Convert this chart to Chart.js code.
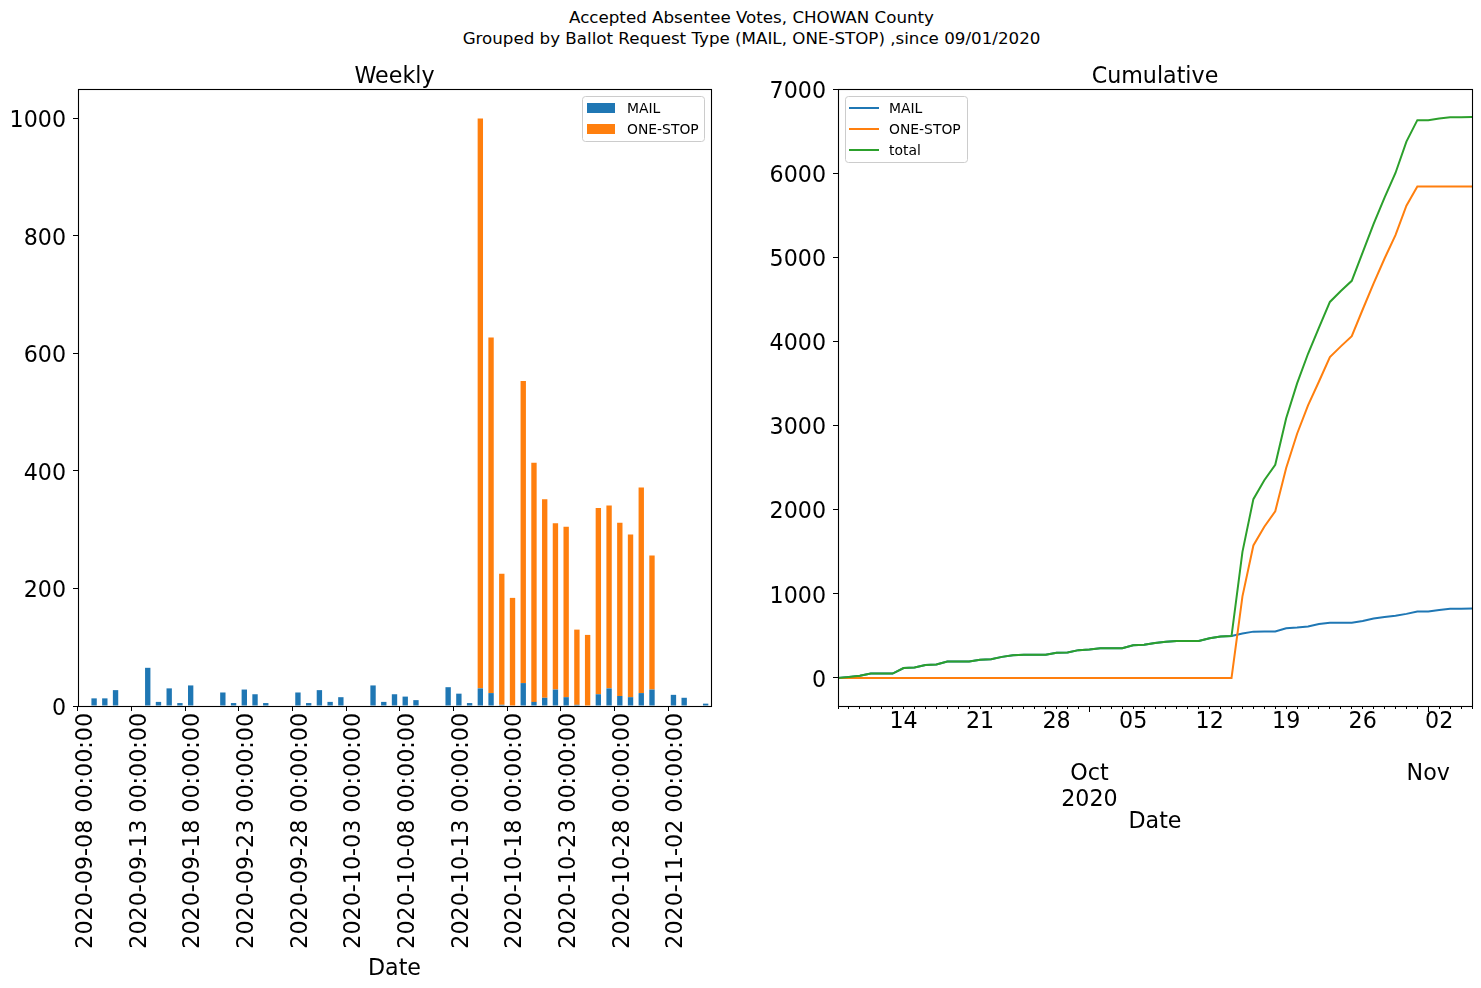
<!DOCTYPE html>
<html><head><meta charset="utf-8">
<script src="https://cdn.jsdelivr.net/npm/chart.js@4.4.0/dist/chart.umd.min.js"></script>
<style>
html,body{margin:0;padding:0;background:#fff;}
body{width:1481px;height:988px;position:relative;overflow:hidden;font-family:'DejaVu Sans',sans-serif;}
#sup{position:absolute;left:11px;top:7px;width:1481px;text-align:center;font-size:16.7px;line-height:21px;color:#000;}
.box{position:absolute;top:0;height:988px;}
#w1{left:0;width:760px;}
#w2{left:760px;width:721px;}
</style></head><body>
<div id="sup">Accepted Absentee Votes, CHOWAN County<br>Grouped by Ballot Request Type (MAIL, ONE-STOP) ,since 09/01/2020</div>
<div class="box" id="w1"><canvas id="c1"></canvas></div>
<div class="box" id="w2"><canvas id="c2"></canvas></div>
<script>
// ---------------- data ----------------
const dates = [
 '2020-09-08','2020-09-09','2020-09-10','2020-09-11','2020-09-12','2020-09-13','2020-09-14','2020-09-15','2020-09-16','2020-09-17',
 '2020-09-18','2020-09-19','2020-09-20','2020-09-21','2020-09-22','2020-09-23','2020-09-24','2020-09-25','2020-09-26','2020-09-27',
 '2020-09-28','2020-09-29','2020-09-30','2020-10-01','2020-10-02','2020-10-03','2020-10-04','2020-10-05','2020-10-06','2020-10-07',
 '2020-10-08','2020-10-09','2020-10-10','2020-10-11','2020-10-12','2020-10-13','2020-10-14','2020-10-15','2020-10-16','2020-10-17',
 '2020-10-18','2020-10-19','2020-10-20','2020-10-21','2020-10-22','2020-10-23','2020-10-24','2020-10-25','2020-10-26','2020-10-27',
 '2020-10-28','2020-10-29','2020-10-30','2020-10-31','2020-11-01','2020-11-02','2020-11-03','2020-11-04','2020-11-05'];

const mailDaily = [0,13,13,27,0,0,65,7,30,5, 35,0,0,23,5,28,20,5,0,0, 23,5,27,7,15,0,0,35,7,20,
 16,10,0,0,32,21,5,30,22,2, 0,39,7,14,28,15,2,0,20,30, 17,15,22,28,0,19,14,0,4];
const oneStopDaily = [0,0,0,0,0,0,0,0,0,0, 0,0,0,0,0,0,0,0,0,0, 0,0,0,0,0,0,0,0,0,0,
 0,0,0,0,0,0,0,970,605,223, 184,514,407,338,283,290,128,121,317,311, 295,277,350,228,0,0,0,0,0];

const mailCum = [0,13,26,53,53,53,118,125,155,160, 195,195,195,218,223,251,271,276,276,276,
 299,304,331,338,353,353,353,388,395,415, 431,441,441,441,473,494,499,529,551,553,
 553,592,599,613,641,656,658,658,678,708, 725,740,762,790,790,809,823,823,827];
const oneStopCum = [0,0,0,0,0,0,0,0,0,0, 0,0,0,0,0,0,0,0,0,0, 0,0,0,0,0,0,0,0,0,0,
 0,0,0,0,0,0,0,970,1575,1798, 1982,2496,2903,3241,3524,3814,3942,4063,4380,4691,
 4986,5263,5613,5841,5841,5841,5841,5841,5841];
const totalCum = [0,13,26,53,53,53,118,125,155,160, 195,195,195,218,223,251,271,276,276,276,
 299,304,331,338,353,353,353,388,395,415, 431,441,441,441,473,494,499,1499,2126,2351,
 2535,3088,3502,3854,4165,4470,4600,4721,5058,5399, 5711,6003,6375,6631,6631,6650,6664,6664,6668];

const weeklyTickDates = ['2020-09-08','2020-09-13','2020-09-18','2020-09-23','2020-09-28','2020-10-03',
 '2020-10-08','2020-10-13','2020-10-18','2020-10-23','2020-10-28','2020-11-02'];
const weeklyYTicks = [0,200,400,600,800,1000];
const cumYTicks = [0,1000,2000,3000,4000,5000,6000,7000];
const cumWeekTickDates = ['2020-09-14','2020-09-21','2020-09-28','2020-10-05','2020-10-12','2020-10-19','2020-10-26','2020-11-02'];
const cumMonthTickDates = ['2020-10-01','2020-11-01'];
const cumMonthTickLabels = [['Oct','2020'],['Nov']];

// ---------------- setup ----------------
const FONT = "'DejaVu Sans', 'Liberation Sans', sans-serif";
const FS = 22.2;
Chart.defaults.font.family = FONT;
Chart.defaults.color = '#000';

const C_MAIL = '#1f77b4', C_ONE = '#ff7f0e', C_TOT = '#2ca02c';

function roundRect(ctx, x, y, w, h, r){
  ctx.beginPath();
  ctx.moveTo(x+r, y); ctx.lineTo(x+w-r, y); ctx.quadraticCurveTo(x+w, y, x+w, y+r);
  ctx.lineTo(x+w, y+h-r); ctx.quadraticCurveTo(x+w, y+h, x+w-r, y+h);
  ctx.lineTo(x+r, y+h); ctx.quadraticCurveTo(x, y+h, x, y+h-r);
  ctx.lineTo(x, y+r); ctx.quadraticCurveTo(x, y, x+r, y); ctx.closePath();
}

function decor(o){
  return {
    id: 'decor_' + o.key,
    afterDraw(chart){
      const ctx = chart.ctx, a = chart.chartArea;
      ctx.save();
      // frame (spines)
      ctx.strokeStyle = '#000'; ctx.lineWidth = 1.1;
      ctx.strokeRect(Math.round(a.left)+0.5, Math.round(a.top)+0.5, Math.round(a.right-a.left), Math.round(a.bottom-a.top));
      // title
      ctx.fillStyle = '#000'; ctx.font = FS + 'px ' + FONT;
      ctx.textAlign = 'center'; ctx.textBaseline = 'middle';
      ctx.fillText(o.title, (a.left + a.right)/2, 77);
      // long month ticks
      if (o.monthTicks){
        const xs = chart.scales.x;
        ctx.lineWidth = 1;
        o.monthTicks.forEach(d => {
          const px = Math.round(xs.getPixelForValue(dates.indexOf(d))) + 0.5;
          ctx.beginPath(); ctx.moveTo(px, a.bottom); ctx.lineTo(px, a.bottom + 6); ctx.stroke();
        });
      }
      // legend
      const L = o.legend;
      ctx.fillStyle = 'rgba(255,255,255,0.8)';
      ctx.strokeStyle = '#cccccc'; ctx.lineWidth = 1;
      roundRect(ctx, L.x + 0.5, L.y + 0.5, L.w, L.h, 3); ctx.fill(); ctx.stroke();
      ctx.font = '13.9px ' + FONT; ctx.textAlign = 'left'; ctx.textBaseline = 'middle';
      L.items.forEach((it, k) => {
        const cy = L.firstY + k * L.dy;
        if (it.kind === 'patch'){
          ctx.fillStyle = it.color; ctx.fillRect(L.sx, cy - 5, L.sw, 10);
        } else {
          ctx.strokeStyle = it.color; ctx.lineWidth = 2;
          ctx.beginPath(); ctx.moveTo(L.sx, cy); ctx.lineTo(L.sx + L.sw, cy); ctx.stroke();
        }
        ctx.fillStyle = '#000'; ctx.fillText(it.label, L.tx, cy + 1);
      });
      ctx.restore();
    }
  };
}

// y tick labels: a leading empty line (with a small line height) nudges the digits onto the tick
const yLabel = (v) => ['', String(v)];

// ---------------- weekly (stacked bars) ----------------
new Chart(document.getElementById('c1'), {
  type: 'bar',
  data: {
    labels: dates,
    datasets: [
      {label: 'MAIL', data: mailDaily, backgroundColor: C_MAIL, barPercentage: 0.5, categoryPercentage: 1.0},
      {label: 'ONE-STOP', data: oneStopDaily, backgroundColor: C_ONE, barPercentage: 0.5, categoryPercentage: 1.0}
    ]
  },
  options: {
    animation: false, responsive: true, maintainAspectRatio: false,
    layout: {padding: {left: 0, top: 89, right: 49, bottom: 0}},
    plugins: {legend: {display: false}, tooltip: {enabled: false}, title: {display: false}},
    scales: {
      x: {
        stacked: true,
        border: {display: false},
        grid: {display: true, drawOnChartArea: false, drawTicks: true, tickLength: 5, tickWidth: 1,
               tickColor: (c) => weeklyTickDates.includes(dates[c.index]) ? '#000' : 'rgba(0,0,0,0)'},
        ticks: {autoSkip: false, minRotation: 90, maxRotation: 90, color: '#000', padding: 2,
                font: {size: FS, family: FONT, lineHeight: '3px'},
                callback: (v, i) => weeklyTickDates.includes(dates[i]) ? ['', dates[i] + ' 00:00:00'] : ''},
        title: {display: true, text: 'Date', color: '#000', font: {size: FS, family: FONT}, padding: {top: 0, bottom: 5}},
        afterFit: (s) => { s.height = 282; }
      },
      y: {
        stacked: true, min: 0, max: 1050,
        border: {display: false},
        afterBuildTicks: (s) => { s.ticks = weeklyYTicks.map(v => ({value: v})); },
        grid: {drawOnChartArea: false, drawTicks: true, tickLength: 5, tickColor: '#000', tickWidth: 1},
        ticks: {color: '#000', padding: 7, font: {size: FS, family: FONT, lineHeight: '6px'}, callback: yLabel},
        afterFit: (s) => { s.width = 78; }
      }
    }
  },
  plugins: [decor({key: 'w', title: 'Weekly', legend: {
    x: 582, y: 96, w: 122, h: 45, sx: 587, sw: 28, tx: 627, firstY: 108, dy: 21,
    items: [{label: 'MAIL', color: C_MAIL, kind: 'patch'}, {label: 'ONE-STOP', color: C_ONE, kind: 'patch'}]
  }})]
});

// ---------------- cumulative (lines) ----------------
function cumLabel(v, i){
  const d = dates[i];
  const m = cumMonthTickDates.indexOf(d);
  if (m >= 0) return ['', ''].concat(cumMonthTickLabels[m]);
  if (cumWeekTickDates.includes(d)) return d.slice(8, 10);
  return '';
}

new Chart(document.getElementById('c2'), {
  type: 'line',
  data: {
    labels: dates,
    datasets: [
      {label: 'MAIL', data: mailCum, borderColor: C_MAIL, backgroundColor: C_MAIL, borderWidth: 2, pointRadius: 0, tension: 0, fill: false, order: 2},
      {label: 'ONE-STOP', data: oneStopCum, borderColor: C_ONE, backgroundColor: C_ONE, borderWidth: 2, pointRadius: 0, tension: 0, fill: false, order: 1},
      {label: 'total', data: totalCum, borderColor: C_TOT, backgroundColor: C_TOT, borderWidth: 2, pointRadius: 0, tension: 0, fill: false, order: 0}
    ]
  },
  options: {
    animation: false, responsive: true, maintainAspectRatio: false,
    layout: {padding: {left: 0, top: 89, right: 9, bottom: 0}},
    plugins: {legend: {display: false}, tooltip: {enabled: false}, title: {display: false}},
    scales: {
      x: {
        offset: false,
        border: {display: false},
        grid: {display: true, drawOnChartArea: false, drawTicks: true, tickLength: 3, tickWidth: 1, tickColor: '#000', offset: false},
        ticks: {autoSkip: false, minRotation: 0, maxRotation: 0, color: '#000', padding: 0,
                font: {size: FS, family: FONT, lineHeight: '26px'}, callback: cumLabel},
        title: {display: true, text: 'Date', color: '#000', font: {size: FS, family: FONT}, padding: {top: 0, bottom: 152}},
        afterFit: (s) => { s.height = 282; }
      },
      y: {
        min: -333, max: 7001,
        border: {display: false},
        afterBuildTicks: (s) => { s.ticks = cumYTicks.map(v => ({value: v})); },
        grid: {drawOnChartArea: false, drawTicks: true, tickLength: 5, tickColor: '#000', tickWidth: 1},
        ticks: {color: '#000', padding: 7, font: {size: FS, family: FONT, lineHeight: '6px'}, callback: yLabel},
        afterFit: (s) => { s.width = 78; }
      }
    }
  },
  plugins: [decor({key: 'c', title: 'Cumulative', monthTicks: cumMonthTickDates, legend: {
    x: 85, y: 96, w: 122, h: 66, sx: 89, sw: 30, tx: 129, firstY: 108, dy: 21,
    items: [{label: 'MAIL', color: C_MAIL, kind: 'line'}, {label: 'ONE-STOP', color: C_ONE, kind: 'line'}, {label: 'total', color: C_TOT, kind: 'line'}]
  }})]
});
</script>
</body></html>
